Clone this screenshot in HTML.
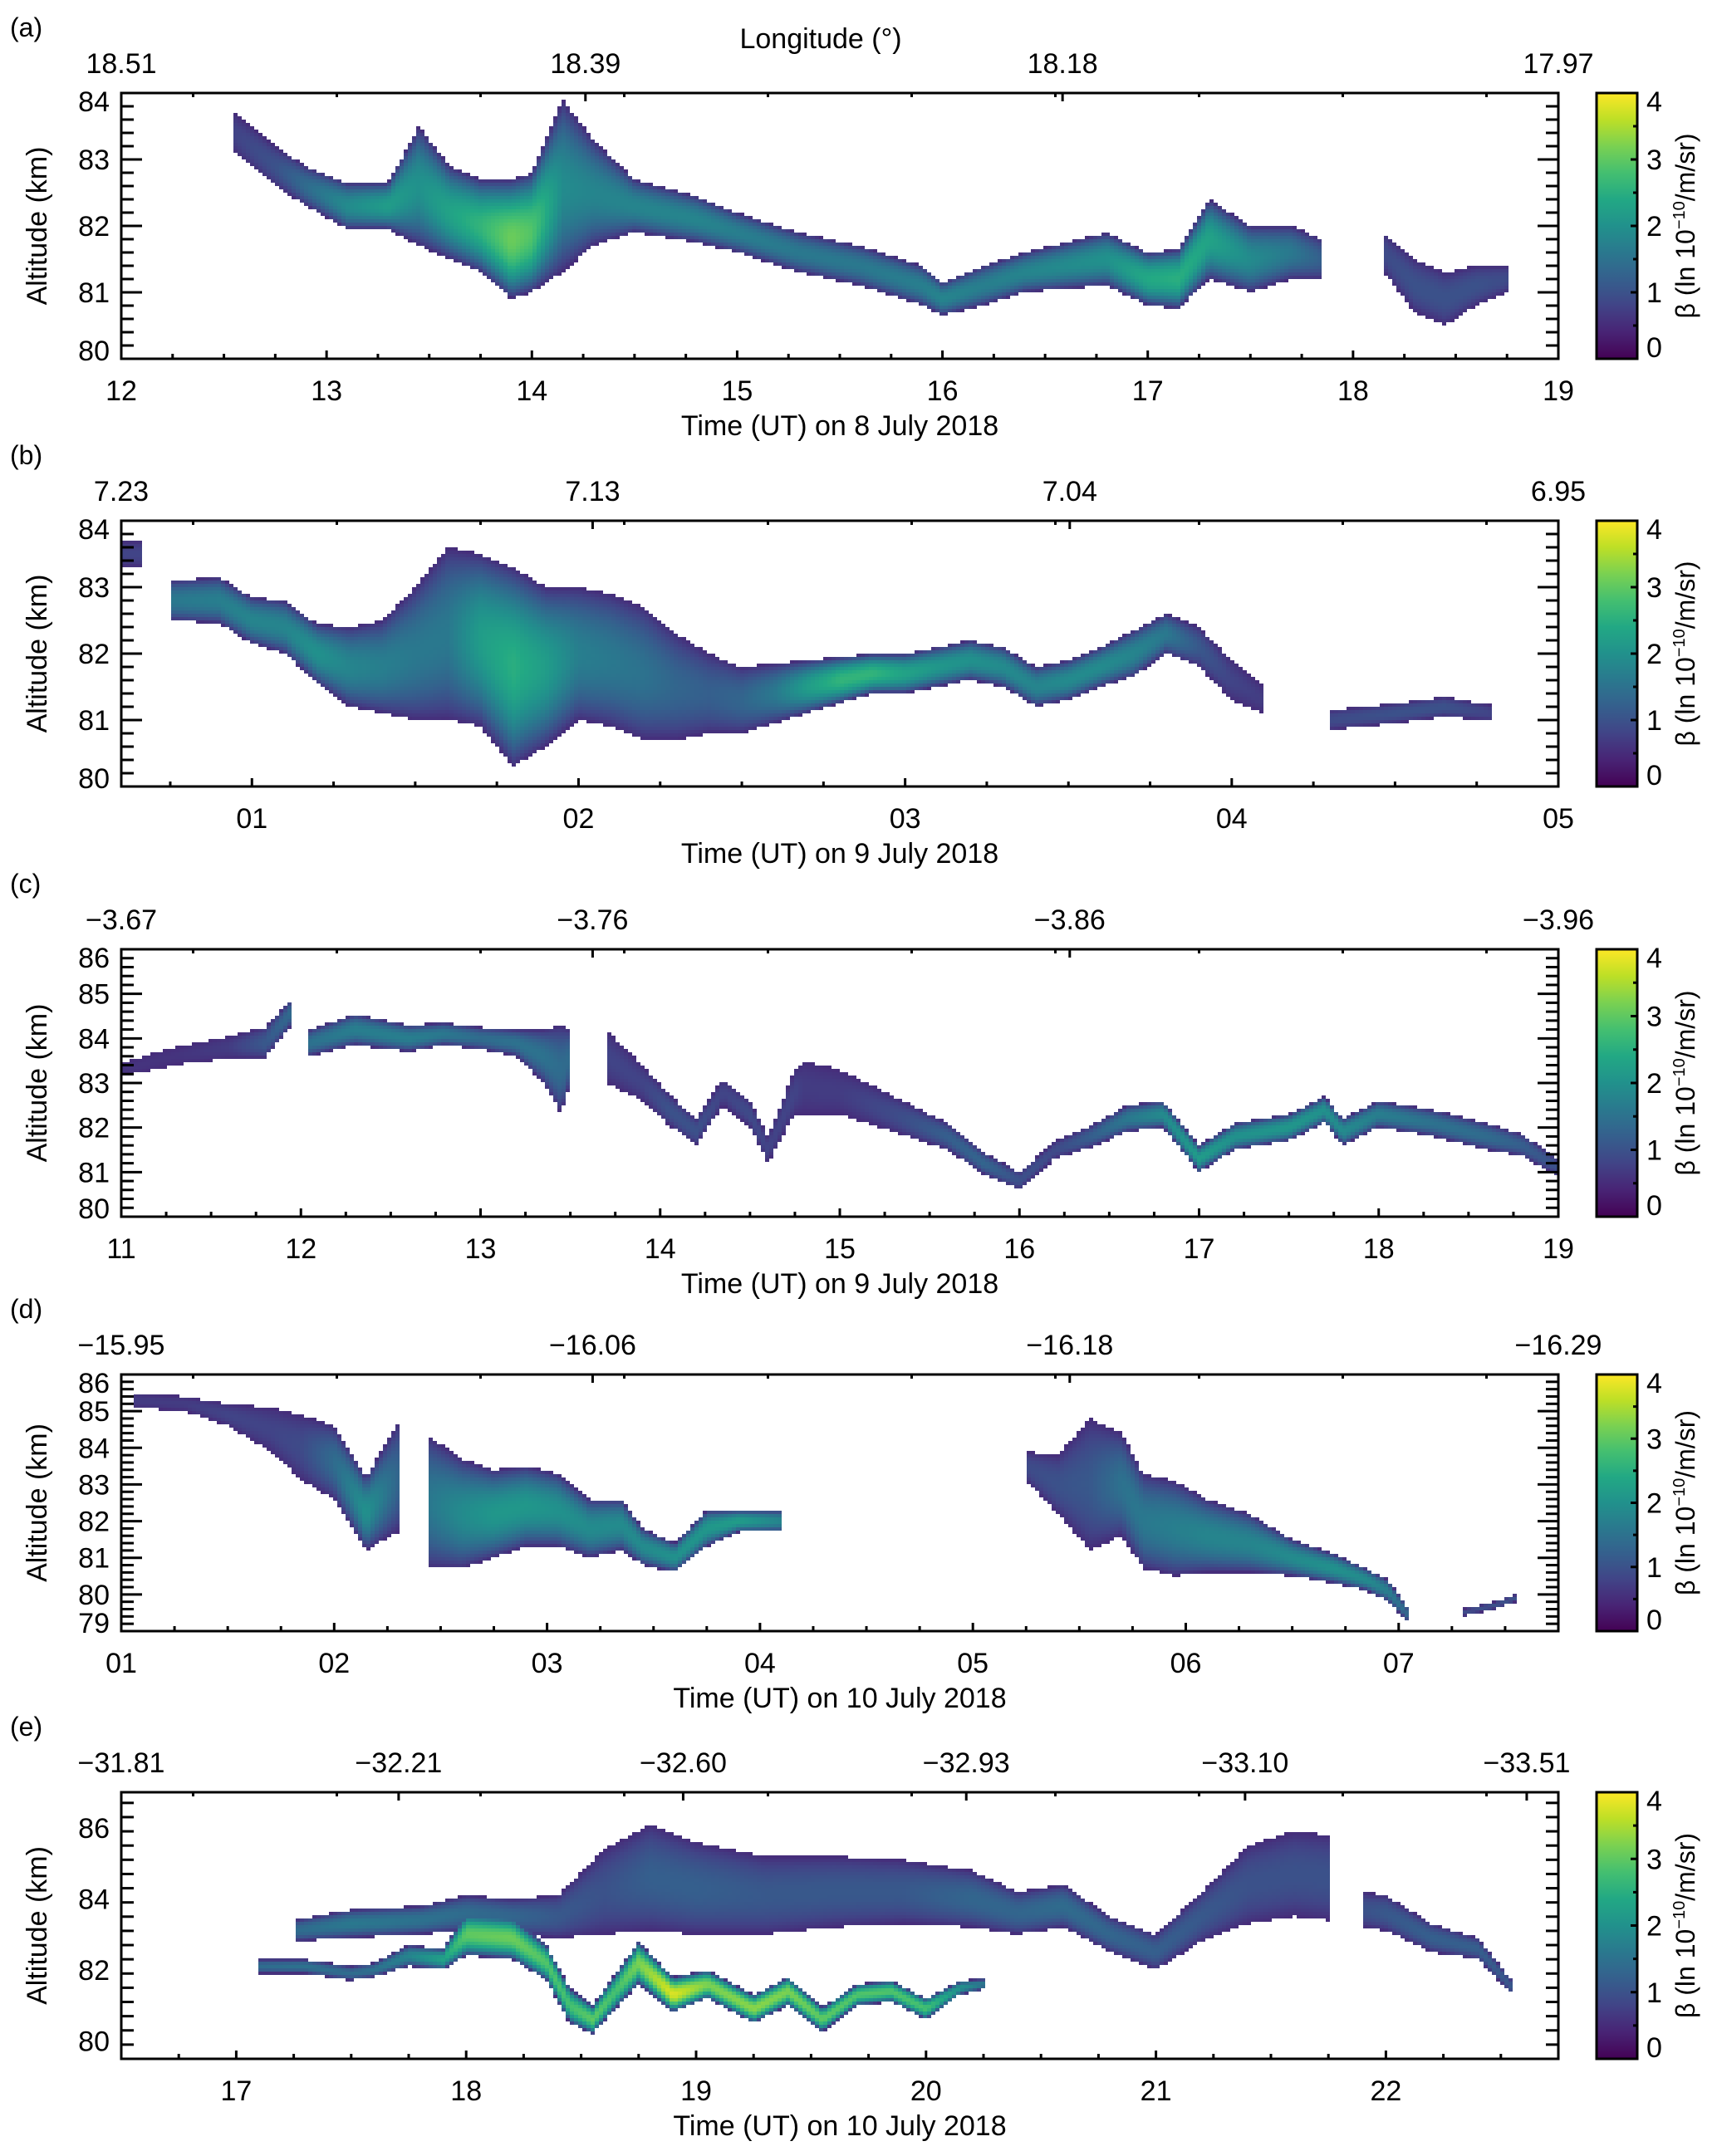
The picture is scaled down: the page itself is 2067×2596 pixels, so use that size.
<!DOCTYPE html>
<html><head><meta charset="utf-8">
<style>
html,body{margin:0;padding:0;background:#fff;}
#wrap{position:relative;width:2067px;height:2596px;overflow:hidden;font-family:"Liberation Sans",sans-serif;}
canvas{position:absolute;image-rendering:pixelated;}
svg{position:absolute;left:0;top:0;}
</style></head>
<body>
<div id="wrap">
<svg id="fig" width="2067" height="2596"></svg>
</div>
<script>
// ---------- data: panel (a) 8 July 2018 ----------
const aTime=[12.55,12.75,12.9,13.1,13.3,13.45,13.6,13.75,13.9,14.0,14.15,14.3,14.5,14.8,15.0,15.3,15.6,15.9,16.0,16.2,16.4,16.6,16.8,17.0,17.15,17.3,17.5,17.7,17.85,17.95,18.15,18.3,18.45,18.6,18.75];
const aCenter=[83.4,82.9,82.6,82.3,82.3,82.6,82.2,82.0,81.8,81.9,82.6,82.5,82.3,82.1,81.9,81.6,81.4,81.1,80.9,81.1,81.3,81.4,81.5,81.2,81.2,81.8,81.5,81.6,81.5,81.5,81.6,81.1,80.9,81.1,81.2];
const aWidth=[0.3,0.3,0.3,0.35,0.35,0.9,0.7,0.7,0.9,0.9,1.3,0.8,0.4,0.35,0.3,0.3,0.3,0.3,0.25,0.3,0.3,0.35,0.4,0.4,0.45,0.6,0.5,0.4,0.3,0.3,0.3,0.4,0.4,0.3,0.2];
const aPeak=[0.8,1.0,1.4,1.9,2.2,2.0,2.3,2.6,3.1,2.9,1.9,1.8,1.8,1.8,1.7,1.6,1.6,1.7,1.8,1.7,1.8,1.9,2.0,2.4,2.5,2.3,1.9,1.6,1.2,0,0.9,1.0,1.0,1.0,0.9];
// ---------- panel (b) 9 July early ----------
const bTime=[0.6,0.66,0.7,0.75,0.9,1.0,1.1,1.2,1.3,1.4,1.5,1.6,1.7,1.8,1.9,2.0,2.1,2.2,2.3,2.4,2.5,2.6,2.7,2.8,2.9,3.0,3.1,3.2,3.3,3.4,3.5,3.6,3.7,3.8,3.9,4.0,4.1,4.2,4.3,4.5,4.65,4.8];
const bCenter=[83.5,83.5,0,82.8,82.8,82.5,82.4,82.0,81.8,81.8,82.0,82.3,82.2,81.8,81.8,82.0,81.9,81.7,81.5,81.4,81.3,81.4,81.5,81.6,81.7,81.7,81.8,81.9,81.8,81.5,81.6,81.8,82.0,82.3,82.1,81.6,81.3,0,81.0,81.1,81.2,81.1];
const bWidth=[0.2,0.2,0,0.3,0.35,0.35,0.4,0.45,0.6,0.7,1.0,1.3,1.3,1.5,1.2,1.0,1.0,1.0,0.8,0.6,0.5,0.45,0.4,0.35,0.3,0.3,0.3,0.3,0.3,0.3,0.3,0.3,0.35,0.3,0.3,0.3,0.2,0,0.15,0.15,0.15,0.12];
const bPeak=[0.8,0.8,0,1.6,1.7,1.8,1.8,2.0,1.8,1.7,1.6,1.6,2.2,2.5,2.2,1.7,1.6,1.5,1.3,1.2,1.3,1.6,2.2,2.6,2.6,2.3,2.1,2.0,1.9,1.8,1.9,1.9,1.8,1.6,1.1,0.8,0.7,0,0.9,1.0,1.0,0.8];
// ---------- panel (c) 9 July late ----------
const cTime=[11.0,11.3,11.6,11.8,11.95,12.0,12.05,12.3,12.6,12.8,13.0,13.2,13.35,13.45,13.5,13.55,13.65,13.7,13.9,14.05,14.2,14.35,14.5,14.6,14.75,14.8,15.0,15.3,15.6,15.8,16.0,16.2,16.4,16.6,16.8,17.0,17.2,17.5,17.7,17.8,18.0,18.3,18.6,18.8,19.0];
const cCenter=[83.3,83.6,83.8,83.9,84.6,0,83.9,84.2,84.0,84.1,84.0,83.9,83.6,83.3,83.6,0,0,83.6,83.0,82.4,81.9,82.8,82.3,81.5,82.8,82.9,82.8,82.3,81.8,81.2,80.8,81.5,81.8,82.2,82.3,81.3,81.8,82.0,82.4,81.9,82.3,82.1,81.8,81.6,81.1];
const cWidth=[0.15,0.2,0.25,0.35,0.3,0,0.3,0.35,0.3,0.25,0.25,0.3,0.6,1.0,0.6,0,0,0.6,0.4,0.35,0.3,0.3,0.3,0.3,0.5,0.6,0.5,0.4,0.3,0.25,0.2,0.2,0.25,0.3,0.3,0.3,0.3,0.3,0.3,0.3,0.3,0.3,0.3,0.25,0.2];
const cPeak=[0.6,0.6,0.7,1.1,1.4,0,1.5,1.7,1.7,1.6,1.4,1.5,1.5,1.4,1.4,0,0,0.8,0.8,1.0,1.0,0.8,0.9,0.8,0.8,0.7,0.7,0.9,1.2,1.3,1.0,0.9,1.2,1.6,1.9,2.2,2.0,2.1,2.0,1.9,1.7,1.5,1.4,1.2,1.0];
// ---------- panel (d) 10 July early ----------
const dTime=[1.05,1.3,1.5,1.7,1.85,2.0,2.15,2.3,2.35,2.4,2.45,2.6,2.75,2.9,3.05,3.2,3.35,3.45,3.6,3.75,3.9,4.1,4.15,5.1,5.25,5.4,5.55,5.7,5.8,5.95,6.1,6.3,6.5,6.7,6.85,6.95,7.05,7.1,7.3,7.45,7.55];
const dCenter=[85.3,85.2,84.9,84.5,84.0,83.6,82.2,83.2,0,0,82.5,82.2,82.2,82.4,82.3,81.8,81.9,81.3,81.0,81.8,82.0,82.0,0,0,83.5,83.0,83.0,83.0,82.0,81.8,81.6,81.4,81.0,80.7,80.4,80.1,79.4,0,79.5,79.7,79.9];
const dWidth=[0.2,0.2,0.3,0.6,0.9,1.0,1.0,1.5,0,0,1.8,1.5,1.2,1.1,1.0,0.8,0.7,0.5,0.4,0.5,0.3,0.3,0,0,0.4,0.8,1.8,1.4,1.3,1.3,1.0,0.8,0.5,0.4,0.3,0.3,0.2,0,0.1,0.1,0.1];
const dPeak=[0.7,0.7,0.8,0.8,0.9,1.4,2.0,1.3,0,0,1.6,1.9,2.1,2.1,2.0,1.9,1.9,1.9,2.0,2.1,2.2,1.8,0,0,0.9,1.0,1.1,1.5,1.6,1.7,1.8,1.8,1.9,2.0,1.9,1.7,1.3,0,0.9,1.0,1.0];
// ---------- panel (e) 10 July late, lower bright layer ----------
const e1Time=[17.1,17.3,17.5,17.6,17.75,17.9,18.0,18.2,18.35,18.45,18.55,18.65,18.75,18.9,19.05,19.25,19.4,19.55,19.7,19.85,20.0,20.15,20.25];
const e1Center=[82.1,82.1,81.9,82.0,82.4,82.3,83.0,82.9,82.2,81.0,80.6,81.4,82.2,81.3,81.6,80.9,81.4,80.6,81.3,81.4,80.9,81.5,81.6];
const e1Width=[0.2,0.2,0.2,0.2,0.3,0.3,0.6,0.6,0.5,0.5,0.4,0.5,0.6,0.5,0.4,0.4,0.4,0.35,0.3,0.3,0.3,0.2,0.15];
const e1Peak=[1.4,1.5,1.4,1.5,1.8,2.3,3.0,3.1,2.9,2.8,3.0,2.8,3.2,3.8,3.2,3.3,3.2,3.0,2.9,2.9,2.8,2.0,1.6];
// ---------- panel (e) upper diffuse layer ----------
const e2Time=[17.25,17.5,17.8,18.0,18.2,18.4,18.6,18.8,19.0,19.3,19.6,19.9,20.2,20.4,20.6,20.8,21.0,21.2,21.4,21.6,21.75,21.8,21.9,22.0,22.2,22.4,22.55];
const e2Center=[83.1,83.3,83.4,83.6,83.5,83.5,84.2,84.6,84.3,84.1,84.2,84.2,84.0,83.6,83.8,83.0,82.5,83.5,84.4,84.7,84.6,0,83.7,83.6,82.9,82.6,81.5];
const e2Width=[0.3,0.4,0.4,0.5,0.5,0.6,1.2,1.5,1.3,1.1,1.0,0.9,0.8,0.6,0.6,0.5,0.5,0.7,1.1,1.2,1.2,0,0.5,0.5,0.4,0.3,0.2];
const e2Peak=[1.4,1.6,1.5,1.4,1.3,1.1,1.0,1.2,1.2,1.1,1.1,1.1,1.3,1.3,1.4,1.3,1.2,1.1,1.0,1.0,1.0,0,1.0,1.1,1.2,1.2,1.1];
// ---------- tick labels ----------
const aLonLabels=["18.51","18.39","18.18","17.97"];
const bLonLabels=["7.23","7.13","7.04","6.95"];
const cLonLabels=["\u22123.67","\u22123.76","\u22123.86","\u22123.96"];
const dLonLabels=["\u221215.95","\u221216.06","\u221216.18","\u221216.29"];
const eLonLabels=["\u221231.81","\u221232.21","\u221232.60","\u221232.93","\u221233.10","\u221233.51"];
const aHourLabels=["12","13","14","15","16","17","18","19"];
const bHourLabels=["01","02","03","04","05"];
const cHourLabels=["11","12","13","14","15","16","17","18","19"];
const dHourLabels=["01","02","03","04","05","06","07"];
const eHourLabels=["17","18","19","20","21","22"];
const colorbarTicks=[0,1,2,3,4];

const L=146,R=1876,CB0=1922,CB1=1971;
const panels=[
 {id:'a',top:112,bot:432,t0:12,t1:19,y0:80,y1:84,yMaj:[80,81,82,83,84],yMin:0.2,hours:aHourLabels,h0:12,lon:aLonLabels,lonF:[0,0.323,0.655,1],xt:'Time (UT) on 8 July 2018',layers:[[aTime,aCenter,aWidth,aPeak]]},
 {id:'b',top:627,bot:947,t0:0.6,t1:5.0,y0:80,y1:84,yMaj:[80,81,82,83,84],yMin:0.2,hours:bHourLabels,h0:1,lon:bLonLabels,lonF:[0,0.328,0.66,1],xt:'Time (UT) on 9 July 2018',layers:[[bTime,bCenter,bWidth,bPeak]]},
 {id:'c',top:1143,bot:1465,t0:11,t1:19,y0:80,y1:86,yMaj:[80,81,82,83,84,85,86],yMin:0.2,hours:cHourLabels,h0:11,lon:cLonLabels,lonF:[0,0.328,0.66,1],xt:'Time (UT) on 9 July 2018',layers:[[cTime,cCenter,cWidth,cPeak]]},
 {id:'d',top:1655,bot:1964,t0:1,t1:7.75,y0:79,y1:86,yMaj:[79,80,81,82,83,84,85,86],yMin:0.2,hours:dHourLabels,h0:1,lon:dLonLabels,lonF:[0,0.328,0.66,1],xt:'Time (UT) on 10 July 2018',layers:[[dTime,dCenter,dWidth,dPeak]]},
 {id:'e',top:2158,bot:2479,t0:16.5,t1:22.75,y0:79.5,y1:87,yMaj:[80,82,84,86],yMin:0.4,hours:eHourLabels,h0:17,lon:eLonLabels,lonF:[0,0.193,0.391,0.588,0.782,0.978],xt:'Time (UT) on 10 July 2018',layers:[[e2Time,e2Center,e2Width,e2Peak],[e1Time,e1Center,e1Width,e1Peak]]}
];

const VIR=[[68,1,84],[72,36,117],[65,68,135],[53,95,141],[42,120,142],[33,145,140],[34,168,132],[68,191,112],[122,209,81],[189,223,38],[253,231,37]];
function viridis(f){f=Math.max(0,Math.min(1,f));const p=f*(VIR.length-1),i=Math.min(VIR.length-2,Math.floor(p)),r=p-i;
 const a=VIR[i],b=VIR[i+1];return 'rgb('+Math.round(a[0]+(b[0]-a[0])*r)+','+Math.round(a[1]+(b[1]-a[1])*r)+','+Math.round(a[2]+(b[2]-a[2])*r)+')';}

const svg=document.getElementById('fig');const NS='http://www.w3.org/2000/svg';
function el(tag,attrs,parent){const e=document.createElementNS(NS,tag);for(const k in attrs)e.setAttribute(k,attrs[k]);(parent||svg).appendChild(e);return e;}
function txt(x,y,s,size,anchor,parent,rot){const e=el('text',{x:x,y:y,'font-size':size,'text-anchor':anchor||'middle','font-family':'Liberation Sans, sans-serif',fill:'#000'},parent);
 if(rot)e.setAttribute('transform','rotate('+rot+' '+x+' '+y+')');e.textContent=s;return e;}

const wrap=document.getElementById('wrap');
const lab=txt(988,58,'Longitude (\u00b0)',34,'middle');



// colorbar gradient
const defs=el('defs',{});
const grad=el('linearGradient',{id:'vir',x1:0,y1:1,x2:0,y2:0},defs);
for(let i=0;i<=20;i++){el('stop',{offset:(i/20),'stop-color':viridis(i/20)},grad);}

panels.forEach(P=>{
 const g=el('g',{});
 
 
 const W=R-L,H=P.bot-P.top;
 const xs=t=>L+(t-P.t0)/(P.t1-P.t0)*W;
 const ys=a=>P.bot-(a-P.y0)/(P.y1-P.y0)*H;
 // heatmap canvas
 const cv=document.createElement('canvas');
 cv.width=W;cv.height=H;cv.style.left=L+'px';cv.style.top=P.top+'px';
 
 
 wrap.insertBefore(cv,svg);
 const ctx=cv.getContext('2d');
 const dx=5,dy=4;
 for(let px=0;px<W;px+=dx){
  const t=P.t0+(px+dx/2)/W*(P.t1-P.t0);
  const cols=[];
  P.layers.forEach(Ly=>{
   const T=Ly[0],C=Ly[1],Wd=Ly[2],V=Ly[3];
   for(let i=0;i<T.length-1;i++){
    if(t>=T[i]&&t<T[i+1]){
     if(V[i]===0||V[i+1]===0)break;
     const r=(t-T[i])/(T[i+1]-T[i]);
     cols.push([C[i]+(C[i+1]-C[i])*r,Wd[i]+(Wd[i+1]-Wd[i])*r,V[i]+(V[i+1]-V[i])*r]);break;}
   }
  });
  if(!cols.length)continue;
  for(let py=0;py<H;py+=dy){
   const a=P.y1-(py+dy/2)/H*(P.y1-P.y0);
   let best=-1;
   cols.forEach(c=>{const d=(a-c[0])/c[1];if(Math.abs(d)<1){const v=0.5+(c[2]-0.5)*(1-d*d);if(v>best)best=v;}});
   if(best<0)continue;
   ctx.fillStyle=viridis(best/4);ctx.fillRect(px,py,dx,dy);
  }
 }
 // frame
 const fr=el('rect',{x:L,y:P.top,width:W,height:H,fill:'none',stroke:'#000','stroke-width':3},g);
 
 
 // y ticks
 for(let a=P.y0;a<=P.y1+1e-6;a+=P.yMin){
  const aa=Math.round(a*10)/10;const major=P.yMaj.some(m=>Math.abs(m-aa)<1e-6);
  const len=major?25:15,y=ys(aa);
  el('line',{x1:L,x2:L+len,y1:y,y2:y,stroke:'#000','stroke-width':3},g);
  el('line',{x1:R,x2:R-len,y1:y,y2:y,stroke:'#000','stroke-width':3},g);
 }
 P.yMaj.forEach(m=>{let y=ys(m);if(m===P.y1)y=Math.max(y,P.top+10);if(m===P.y0)y=Math.min(y,P.bot-10);
  const t=txt(L-14,y+12,String(m),34,'end',g);
  
  });
 const yt=txt(56,(P.top+P.bot)/2,'Altitude (km)',34,'middle',g,-90);
 
 
 // x ticks (hours)
 for(let q=Math.ceil(P.t0*4)/4;q<=P.t1+1e-6;q+=0.25){
  const major=Math.abs(q-Math.round(q))<1e-6,x=xs(q),len=major?10:6;
  el('line',{x1:x,x2:x,y1:P.bot,y2:P.bot-len,stroke:'#000','stroke-width':3},g);
 }
 P.hours.forEach((h,i)=>{const x=xs(P.h0+i);
  const t=txt(x,P.bot+50,h,34,'middle',g);
  
  });
 const xt=txt((L+R)/2,P.bot+92,P.xt,34,'middle',g);
 
 
 // top longitude ticks
 P.lon.forEach((s,i)=>{const x=L+P.lonF[i]*W;
  el('line',{x1:x,x2:x,y1:P.top,y2:P.top+10,stroke:'#000','stroke-width':3},g);
  const t=txt(x,P.top-24,s,34,'middle',g);
  
  });
 for(let f=0.05;f<1;f+=0.1){el('line',{x1:L+f*W,x2:L+f*W,y1:P.top,y2:P.top+5,stroke:'#000','stroke-width':3},g);}
 // panel label
 const pl=txt(12,P.top-68,'('+P.id+')',32,'start',g);
 
 
 // colorbar
 const cb=el('rect',{x:CB0,y:P.top,width:CB1-CB0,height:H,fill:'url(#vir)',stroke:'#000','stroke-width':3},g);
 
 
 colorbarTicks.forEach(v=>{const y=P.bot-v/4*H;
  if(v>0&&v<4)el('line',{x1:CB1,x2:CB1-8,y1:y,y2:y,stroke:'#000','stroke-width':3},g);
  const ty=v===4?y+22:(v===0?y-2:y+12);
  const t=txt(1982,ty,String(v),34,'start',g);
  
  });
 for(let v=0.5;v<4;v+=1){const y=P.bot-v/4*H;el('line',{x1:CB1,x2:CB1-5,y1:y,y2:y,stroke:'#000','stroke-width':3},g);}
 const ct=el('text',{x:2040,y:(P.top+P.bot)/2,'font-size':32,'text-anchor':'middle','font-family':'Liberation Sans, sans-serif',transform:'rotate(-90 2040 '+((P.top+P.bot)/2)+')'},g);
 
 
 ct.innerHTML='\u03b2 (ln 10<tspan dy="-12" font-size="20">\u221210</tspan><tspan dy="12">/m/sr)</tspan>';
});
</script>
</body></html>
